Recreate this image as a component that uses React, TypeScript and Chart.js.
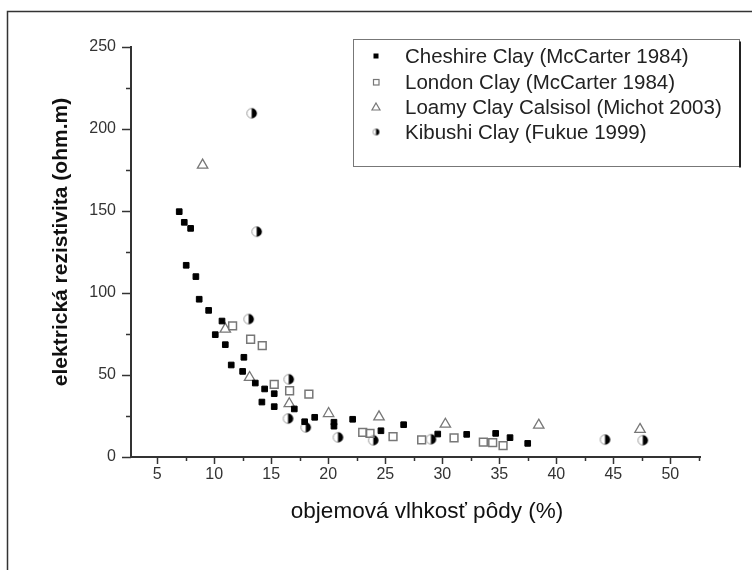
import React, { useEffect, useRef } from 'react';
import { Chart, registerables } from 'chart.js';

Chart.register(...registerables);

// ---------- data ----------
const seriesNames = [
  'Cheshire Clay (McCarter 1984)',
  'London Clay (McCarter 1984)',
  'Loamy Clay Calsisol (Michot 2003)',
  'Kibushi Clay (Fukue 1999)',
];

const cheshireX = [6.93, 7.37, 7.93, 7.54, 8.39, 8.68, 9.51, 10.68, 10.09, 10.97, 11.49, 12.6, 12.49, 13.6, 14.42, 14.18, 15.26, 15.26, 17.02, 17.93, 18.81, 20.5, 20.5, 22.14, 24.62, 26.61, 29.6, 32.14, 34.68, 35.94, 37.49];
const cheshireY = [149.6, 143.1, 139.4, 116.9, 110, 96.2, 89.4, 82.9, 74.6, 68.5, 56.1, 60.8, 52.2, 45.1, 41.5, 33.5, 38.6, 30.7, 29.3, 21.5, 24.2, 21.2, 18.8, 23, 16, 19.7, 14, 13.8, 14.4, 11.8, 8.3];

const londonX = [11.61, 13.19, 14.21, 15.26, 16.61, 18.3, 23.02, 23.66, 25.68, 28.19, 31.03, 33.6, 34.42, 35.33];
const londonY = [79.9, 71.8, 67.9, 44.3, 40.4, 38.4, 15, 14.4, 12.4, 10.4, 11.6, 9.1, 8.7, 6.9];

const loamyX = [8.98, 10.97, 13.1, 16.58, 20.03, 24.45, 30.27, 38.46, 47.34];
const loamyY = [178, 78, 48.5, 32.5, 26.5, 24.5, 20, 19.4, 16.8];

const kibushiX = [13.28, 13.72, 13.02, 16.53, 16.47, 18.02, 20.85, 23.95, 29, 44.27, 47.58];
const kibushiY = [209.6, 137.4, 84.1, 47.4, 23.4, 18.1, 12, 10.2, 10.8, 10.6, 10.2];

const xTickLabels = [5, 10, 15, 20, 25, 30, 35, 40, 45, 50];
const yTickLabels = [0, 50, 100, 150, 200, 250];
const xMin = 2.7;
const xMax = 52.6;
const yMin = 0;
const yMax = 250;

const xTitle = 'objemová vlhkosť pôdy (%)';
const yTitle = 'elektrická rezistivita (ohm.m)';

const FONT = '"Liberation Sans", Arial, sans-serif';

function halfCircle(r: number): HTMLCanvasElement {
  const size = Math.ceil(r * 2 + 3);
  const c = document.createElement('canvas');
  c.width = size;
  c.height = size;
  const g = c.getContext('2d')!;
  const cx = size / 2;
  const cy = size / 2;
  g.beginPath();
  g.arc(cx, cy, r, 0, Math.PI * 2);
  g.fillStyle = '#fff';
  g.fill();
  g.lineWidth = 1;
  g.strokeStyle = '#999';
  g.stroke();
  g.beginPath();
  g.arc(cx, cy, r + 0.3, -Math.PI / 2, Math.PI / 2);
  g.closePath();
  g.fillStyle = '#000';
  g.fill();
  return c;
}

function toPts(xs: number[], ys: number[]) {
  return xs.map((x, i) => ({ x, y: ys[i] }));
}

const decorPlugin = {
  id: 'decor',
  afterDraw(chart: any) {
    const ctx: CanvasRenderingContext2D = chart.ctx;
    const xs = chart.scales.x;
    const ys = chart.scales.y;
    const a = chart.chartArea;
    ctx.save();

    // outer frame
    ctx.strokeStyle = '#333';
    ctx.lineWidth = 1.5;
    ctx.beginPath();
    ctx.moveTo(7.5, 570);
    ctx.lineTo(7.5, 11.5);
    ctx.lineTo(752, 11.5);
    ctx.stroke();

    // tick marks (major + minor)
    ctx.strokeStyle = '#333';
    ctx.lineWidth = 1.5;
    for (let k = 1; k * 2.5 <= xMax; k++) {
      const v = k * 2.5;
      if (v < xMin) continue;
      const p = Math.round(xs.getPixelForValue(v)) + 0.5;
      const major = k % 2 === 0;
      ctx.beginPath();
      ctx.moveTo(p, a.bottom);
      ctx.lineTo(p, a.bottom + (major ? 7 : 4));
      ctx.stroke();
    }
    for (let k = 0; k * 25 <= yMax; k++) {
      const v = k * 25;
      const p = Math.round(ys.getPixelForValue(v)) + 0.5;
      const major = k % 2 === 0;
      ctx.beginPath();
      ctx.moveTo(a.left, p);
      ctx.lineTo(a.left - (major ? 9 : 5), p);
      ctx.stroke();
    }

    // axis titles
    ctx.fillStyle = '#111';
    ctx.textAlign = 'center';
    ctx.textBaseline = 'middle';
    ctx.font = `22.5px ${FONT}`;
    ctx.fillText(xTitle, 427, 512);
    ctx.save();
    ctx.translate(61, 242);
    ctx.rotate(-Math.PI / 2);
    ctx.font = `bold 21px ${FONT}`;
    ctx.fillText(yTitle, 0, 0);
    ctx.restore();

    // legend
    const lx = 353.5, ly = 39.5, lw = 386, lh = 127;
    ctx.strokeStyle = '#777';
    ctx.lineWidth = 1;
    ctx.strokeRect(lx, ly, lw, lh);
    ctx.strokeStyle = '#222';
    ctx.lineWidth = 2;
    ctx.beginPath();
    ctx.moveTo(lx + lw + 0.5, ly + 2);
    ctx.lineTo(lx + lw + 0.5, ly + lh + 1);
    ctx.stroke();

    const rowsY = [56, 82, 107, 132];
    const mx = 376;
    ctx.font = `20.5px ${FONT}`;
    ctx.textAlign = 'left';
    ctx.fillStyle = '#222';
    for (let i = 0; i < 4; i++) {
      const y = rowsY[i];
      ctx.save();
      if (i === 0) {
        ctx.fillStyle = '#000';
        ctx.fillRect(mx - 2.5, y - 2.5, 5, 5);
      } else if (i === 1) {
        ctx.strokeStyle = '#777';
        ctx.lineWidth = 1.2;
        ctx.strokeRect(mx - 2.5, y - 2.5, 5.5, 5.5);
      } else if (i === 2) {
        ctx.strokeStyle = '#777';
        ctx.lineWidth = 1.2;
        ctx.beginPath();
        ctx.moveTo(mx, y - 4);
        ctx.lineTo(mx + 4, y + 3);
        ctx.lineTo(mx - 4, y + 3);
        ctx.closePath();
        ctx.stroke();
      } else {
        ctx.drawImage(halfCircle(3), mx - 4.5, y - 4.5);
      }
      ctx.restore();
      ctx.fillText(seriesNames[i], 405, y + 1);
    }
    ctx.restore();
  },
};

export default function App() {
  const ref = useRef<HTMLCanvasElement>(null);
  useEffect(() => {
    if (!ref.current) return;
    const kib = halfCircle(4.8);
    const chart = new Chart(ref.current, {
      type: 'scatter',
      data: {
        datasets: [
          {
            label: seriesNames[0],
            data: toPts(cheshireX, cheshireY),
            pointStyle: 'rect',
            pointRadius: 4,
            backgroundColor: '#000',
            borderColor: '#000',
            borderWidth: 1,
          },
          {
            label: seriesNames[1],
            data: toPts(londonX, londonY),
            pointStyle: 'rect',
            pointRadius: 5.5,
            backgroundColor: 'rgba(255,255,255,0)',
            borderColor: '#777',
            borderWidth: 1.5,
          },
          {
            label: seriesNames[2],
            data: toPts(loamyX, loamyY),
            pointStyle: 'triangle',
            pointRadius: 6,
            backgroundColor: 'rgba(255,255,255,0)',
            borderColor: '#777',
            borderWidth: 1.3,
          },
          {
            label: seriesNames[3],
            data: toPts(kibushiX, kibushiY),
            pointStyle: kib as any,
            pointRadius: 5,
          },
        ],
      },
      options: {
        animation: false,
        responsive: false,
        devicePixelRatio: 1,
        layout: { padding: { left: 0, top: 47, right: 52, bottom: 0 } },
        plugins: {
          legend: { display: false },
          tooltip: { enabled: false },
        },
        scales: {
          x: {
            type: 'linear',
            min: xMin,
            max: xMax,
            afterFit: (s: any) => {
              s.height = 113;
            },
            afterBuildTicks: (s: any) => {
              s.ticks = xTickLabels.map((v) => ({ value: v }));
            },
            grid: { display: false, drawTicks: false },
            border: { display: true, color: '#333', width: 2 },
            ticks: {
              padding: 8,
              color: '#333',
              font: { family: FONT, size: 16 },
              maxRotation: 0,
              autoSkip: false,
              callback: (v: any) => String(v),
            },
          },
          y: {
            type: 'linear',
            min: yMin,
            max: yMax,
            afterFit: (s: any) => {
              s.width = 131;
            },
            afterBuildTicks: (s: any) => {
              s.ticks = yTickLabels.map((v) => ({ value: v }));
            },
            grid: { display: false, drawTicks: false },
            border: { display: true, color: '#333', width: 2 },
            ticks: {
              padding: 15,
              color: '#333',
              font: { family: FONT, size: 16 },
              autoSkip: false,
              callback: (v: any) => String(v),
            },
          },
        },
      },
      plugins: [decorPlugin],
    });
    return () => chart.destroy();
  }, []);

  return (
    <div style={{ position: 'fixed', left: 0, top: 0, width: 752, height: 570, background: '#fff' }}>
      <canvas ref={ref} width={752} height={570} style={{ display: 'block', width: 752, height: 570 }} />
    </div>
  );
}
